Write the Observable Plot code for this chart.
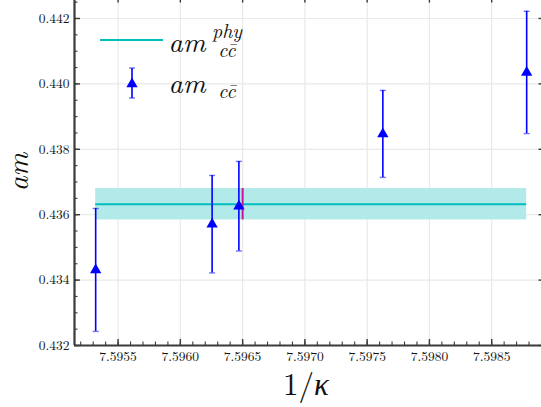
<!DOCTYPE html>
<html>
<head>
<meta charset="utf-8">
<script src="https://cdn.jsdelivr.net/npm/d3@7"></script>
<script src="https://cdn.jsdelivr.net/npm/@observablehq/plot@0.6"></script>
<style>
  html, body { margin: 0; padding: 0; background: #fff; }
  svg { display: block; }
</style>
</head>
<body>
<div id="chart"></div>
<script>
// ---- data ----
const kappaInv = [7.59532, 7.596255, 7.59647, 7.597626, 7.598781];
const am       = [0.43431, 0.43571, 0.43626, 0.43847, 0.44035];
const amErr    = [0.00188, 0.00149, 0.00137, 0.00133, 0.00187];

const amPhys = 0.43632;
const amPhysErr = 0.00048;
const kappaPhys = 7.5965;

const xTickValues = [7.5955, 7.5960, 7.5965, 7.5970, 7.5975, 7.5980, 7.5985];
const yTickValues = [0.432, 0.434, 0.436, 0.438, 0.440, 0.442];
const xMinorValues = d3.range(7.5952, 7.5989, 0.0001).map(v => +v.toFixed(4));
const yMinorValues = d3.range(0.4320, 0.4426, 0.0005).map(v => +v.toFixed(4));

const xDomain = [7.59515, 7.59890];
const yDomain = [0.432, 0.44255];

const points = kappaInv.map((k, i) => ({k, v: am[i], e: amErr[i]}));
const phys = [{k1: kappaInv[0], k2: kappaInv[kappaInv.length - 1], kp: kappaPhys, v: amPhys, e: amPhysErr}];

// ---- styling ----
const W = 541, H = 407;
const mL = 74, mR = 0, mT = 0, mB = 62;
const plotH = H - mT - mB;
const plotW = W - mL - mR;
const axisColor = "#3a3a3a";
const gridColor = "#e9e9e9";
const blue = "#0000ff";
const cyan = "#00bebe";
const band = "#b2eaea";
const magenta = "#cc10a0";
const serif = '"Latin Modern Roman"';

const capSymbol = {
  draw(context, size) {
    const w = 3;
    context.moveTo(-w, 0);
    context.lineTo(w, 0);
  }
};

const chart = Plot.plot({
  width: W,
  height: H,
  marginLeft: mL,
  marginRight: mR,
  marginTop: mT,
  marginBottom: mB,
  x: {domain: xDomain, axis: null, label: null},
  y: {domain: yDomain, axis: null, label: null},
  style: {fontFamily: serif, fontSize: "13.5px", color: "#111", background: "#fff"},
  marks: [
    Plot.gridX(xTickValues, {stroke: gridColor, strokeOpacity: 1, strokeWidth: 1.2}),
    Plot.gridY(yTickValues, {stroke: gridColor, strokeOpacity: 1, strokeWidth: 1.2}),
    // physical band + line
    Plot.rect(phys, {x1: "k1", x2: "k2", y1: d => d.v - d.e, y2: d => d.v + d.e, fill: band}),
    Plot.ruleY(phys, {y: "v", x1: "k1", x2: "k2", stroke: cyan, strokeWidth: 2}),
    Plot.ruleX(phys, {x: "kp", y1: d => d.v - d.e, y2: d => d.v + d.e, stroke: magenta, strokeWidth: 2}),
    // error bars
    Plot.ruleX(points, {x: "k", y1: d => d.v - d.e, y2: d => d.v + d.e, stroke: blue, strokeWidth: 1.6}),
    Plot.dot(points, {x: "k", y: d => d.v + d.e, symbol: capSymbol, stroke: blue, strokeOpacity: 0.55, strokeWidth: 1.4, r: 3}),
    Plot.dot(points, {x: "k", y: d => d.v - d.e, symbol: capSymbol, stroke: blue, strokeOpacity: 0.55, strokeWidth: 1.4, r: 3}),
    Plot.dot(points, {x: "k", y: "v", symbol: "triangle", fill: blue, stroke: null, r: 4.2}),
    // axis lines
    Plot.ruleY([yDomain[0]], {stroke: axisColor, strokeWidth: 2.2}),
    Plot.ruleX([xDomain[0]], {stroke: axisColor, strokeWidth: 2.2}),
    // inward ticks bottom
    Plot.tickX(xTickValues, {x: d => d, insetTop: plotH - 6, stroke: axisColor, strokeWidth: 1.4}),
    Plot.tickX(xMinorValues, {x: d => d, insetTop: plotH - 3.5, stroke: axisColor, strokeWidth: 1.1}),
    // inward ticks top (mostly clipped by canvas edge)
    Plot.tickX(xTickValues, {x: d => d, insetBottom: plotH - 2.5, stroke: axisColor, strokeWidth: 1.4}),
    // inward ticks left
    Plot.tickY(yTickValues, {y: d => d, insetRight: plotW - 6, stroke: axisColor, strokeWidth: 1.4}),
    Plot.tickY(yMinorValues, {y: d => d, insetRight: plotW - 3.5, stroke: axisColor, strokeWidth: 1.1}),
    // inward ticks right
    Plot.tickY(yTickValues, {y: d => d, insetLeft: plotW - 2.5, stroke: axisColor, strokeWidth: 1.4}),
    // tick labels
    Plot.axisX(xTickValues, {tickSize: 0, tickPadding: 6, label: null, tickFormat: d3.format(".4f"), fontSize: 13.5, fill: "#111"}),
    Plot.axisY(yTickValues, {tickSize: 0, tickPadding: 5, label: null, tickFormat: d3.format(".3f"), fontSize: 13.5, fill: "#111"})
  ]
});

document.getElementById("chart").appendChild(chart);

// ---- legend and axis titles (rich math text) ----
const svg = d3.select(chart);

const leg = svg.append("g");
leg.append("line").attr("x1", 100).attr("x2", 163).attr("y1", 40).attr("y2", 40)
  .attr("stroke", cyan).attr("stroke-width", 2);
leg.append("line").attr("x1", 132).attr("x2", 132).attr("y1", 68).attr("y2", 98)
  .attr("stroke", blue).attr("stroke-width", 1.6);
[68, 98].forEach(y => leg.append("line").attr("x1", 129).attr("x2", 135).attr("y1", y).attr("y2", y)
  .attr("stroke", blue).attr("stroke-opacity", 0.55).attr("stroke-width", 1.4));
leg.append("path").attr("transform", "translate(132,84)")
  .attr("d", d3.symbol(d3.symbolTriangle, 4.2 * 4.2 * Math.PI)()).attr("fill", blue);

function mathLabel(g, x, y, sub, sup) {
  g.append("text").attr("x", x).attr("y", y)
    .style("font-family", serif).style("font-style", "italic").style("font-size", "28px").attr("fill", "#111")
    .text("am");
  const xs = x + 40;
  if (sup) {
    g.append("text").attr("x", xs).attr("y", y - 14)
      .style("font-family", serif).style("font-style", "italic").style("font-size", "20px").attr("fill", "#111")
      .text(sup);
  }
  g.append("text").attr("x", xs).attr("y", y + 5)
    .style("font-family", serif).style("font-style", "italic").style("font-size", "20px").attr("fill", "#111")
    .text(sub);
}
mathLabel(leg, 187, 52, "cc\u0304", "phy");
mathLabel(leg, 187, 93, "cc\u0304", null);

// y label
svg.append("text")
  .attr("transform", "translate(28,172) rotate(-90)")
  .attr("text-anchor", "middle")
  .style("font-family", serif).style("font-style", "italic").style("font-size", "29px").attr("fill", "#111")
  .text("am");

// x label
const xl = svg.append("text").attr("x", 306).attr("y", 395).attr("text-anchor", "middle")
  .style("font-family", serif).style("font-size", "31px").attr("fill", "#111");
xl.append("tspan").text("1/");
xl.append("tspan").style("font-style", "italic").text("\u03ba");
</script>
</body>
</html>
